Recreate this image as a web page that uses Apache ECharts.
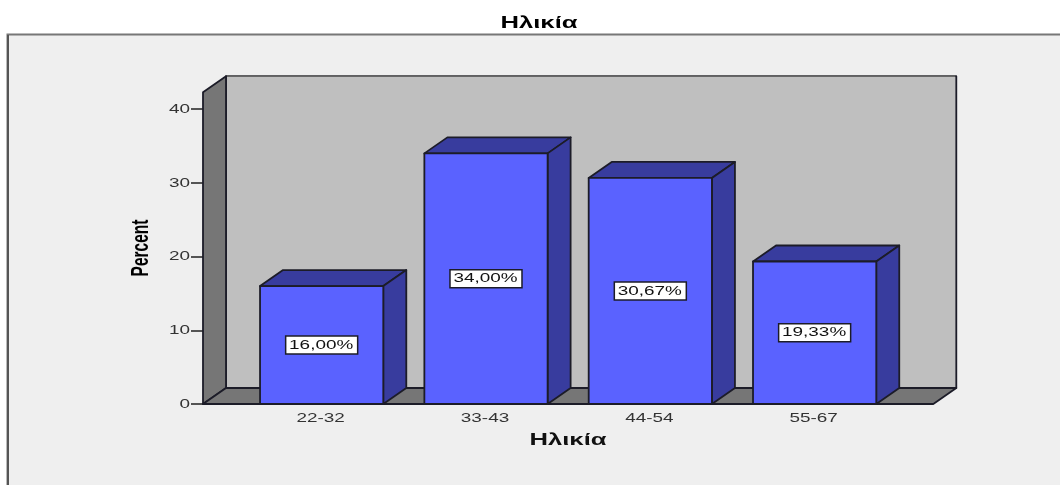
<!DOCTYPE html>
<html>
<head>
<meta charset="utf-8">
<title>Ηλικία</title>
<script src="https://cdn.jsdelivr.net/npm/echarts@6/dist/echarts.min.js"></script>
<style>
html,body{margin:0;padding:0;background:#fff}
#main{width:1060px;height:485px}
</style>
</head>
<body>
<div id="main"></div>
<script>
const categories = ['22-32', '33-43', '44-54', '55-67'];
const percents = [16.00, 34.00, 30.67, 19.33];
const percentLabels = ['16,00%', '34,00%', '30,67%', '19,33%'];
const yTicks = [0, 10, 20, 30, 40];
const yMax = 42.3;

// 3d look: how far the back wall sits from the front plane
const depthX = 23;
const depthY = -16;
// the front plane is wider than the category bands
const sideGap = 36.5;
const stretch = 1.4; // the picture is stretched sideways, so is its text

const edge = '#1c1c28';
const font = '13.5px "Liberation Sans"';

const chart = echarts.init(document.getElementById('main'), null, {renderer: 'canvas'});

const poly = (points, fill) => ({
    type: 'polygon',
    shape: {points},
    style: {fill, stroke: edge, lineWidth: 1.8, lineJoin: 'round'}
});

const wideText = (x, y, text, align, fill) => ({
    type: 'text',
    x, y,
    scaleX: stretch,
    style: {text, x: 0, y: 0, align, verticalAlign: 'middle', fill, font}
});

const renderWalls = (params) => {
    const cs = params.coordSys;
    const l = cs.x - sideGap, r = cs.x + cs.width + sideGap;
    const t = cs.y, b = cs.y + cs.height;
    return {
        type: 'group',
        children: [
            poly([[l + depthX, t + depthY], [r + depthX, t + depthY], [r + depthX, b + depthY], [l + depthX, b + depthY]], '#bfbfbf'),
            poly([[l, t], [l + depthX, t + depthY], [l + depthX, b + depthY], [l, b]], '#767676'),
            poly([[l, b], [l + depthX, b + depthY], [r + depthX, b + depthY], [r, b]], '#767676'),
            // top of the back wall is a lighter line in the picture
            {
                type: 'line',
                shape: {x1: l + depthX + 1, y1: t + depthY, x2: r + depthX - 1, y2: t + depthY},
                style: {stroke: '#666', lineWidth: 1.8}
            }
        ]
    };
};

const renderBar = (params, api) => {
    const i = api.value(0);
    const top = api.coord([i, api.value(1)]);
    const base = api.coord([i, 0]);
    const half = api.size([1, 0])[0] * 0.75 / 2;
    const l = top[0] - half, r = top[0] + half;
    const midY = (top[1] + base[1]) / 2;
    return {
        type: 'group',
        children: [
            poly([[l, top[1]], [l + depthX, top[1] + depthY], [r + depthX, top[1] + depthY], [r, top[1]]], '#383c9e'),
            poly([[r, top[1]], [r + depthX, top[1] + depthY], [r + depthX, base[1] + depthY], [r, base[1]]], '#383c9e'),
            poly([[l, top[1]], [r, top[1]], [r, base[1]], [l, base[1]]], '#5a62ff'),
            {
                type: 'rect',
                shape: {x: top[0] - 36, y: midY - 9, width: 72, height: 18},
                style: {fill: '#fff', stroke: edge, lineWidth: 1.5}
            },
            wideText(top[0] - 0.5, midY, percentLabels[i], 'center', '#111')
        ]
    };
};

const renderXLabel = (params, api) => {
    const p = api.coord([api.value(0), 0]);
    return wideText(p[0] - 1, p[1] + 14, categories[api.value(0)], 'center', '#333');
};

const renderYLabel = (params, api) => {
    const p = api.coord([0, api.value(1)]);
    return wideText(params.coordSys.x - sideGap - 13, p[1], String(api.value(1)), 'right', '#333');
};

const option = {
    animation: false,
    backgroundColor: '#fff',
    grid: {left: 239.5, top: 92.2, width: 657.3, height: 311.8},
    xAxis: {
        type: 'category',
        data: categories,
        axisLine: {show: false},
        axisTick: {alignWithLabel: true, length: 7, lineStyle: {color: '#444', width: 2}},
        axisLabel: {show: false}
    },
    yAxis: {
        type: 'value',
        min: 0,
        max: yMax,
        offset: sideGap,
        splitLine: {show: false},
        axisLine: {show: false},
        axisTick: {show: true, length: 12, customValues: yTicks, lineStyle: {color: '#222', width: 1.5}},
        axisLabel: {show: false}
    },
    graphic: [
        {
            type: 'rect',
            z: -10,
            shape: {x: 7.5, y: 34.5, width: 1100, height: 500},
            style: {fill: '#efefef', stroke: '#777', lineWidth: 2}
        },
        {
            type: 'line',
            z: -9,
            shape: {x1: 8, y1: 35, x2: 8, y2: 485},
            style: {stroke: '#555', lineWidth: 2}
        },
        {
            type: 'text', x: 539, y: 24, scaleX: 1.6,
            style: {text: 'Ηλικία', x: 0, y: 0, align: 'center', verticalAlign: 'middle', fill: '#000', font: 'bold 16px "Liberation Sans"'}
        },
        {
            type: 'text', x: 568, y: 441, scaleX: 1.6,
            style: {text: 'Ηλικία', x: 0, y: 0, align: 'center', verticalAlign: 'middle', fill: '#111', font: 'bold 16px "Liberation Sans"'}
        },
        {
            type: 'text', x: 142, y: 248, rotation: Math.PI / 2, scaleY: 1.5,
            style: {text: 'Percent', x: 0, y: 0, align: 'center', verticalAlign: 'middle', fill: '#000', font: 'bold 15.5px "Liberation Sans"'}
        }
    ],
    series: [
        {type: 'custom', z: 1, renderItem: renderWalls, data: [[0, 0]], encode: {x: 0, y: 1}, silent: true},
        {type: 'custom', z: 3, renderItem: renderBar, data: percents.map((v, i) => [i, v]), encode: {x: 0, y: 1}},
        {type: 'custom', z: 3, renderItem: renderXLabel, data: categories.map((c, i) => [i, 0]), encode: {x: 0, y: 1}},
        {type: 'custom', z: 3, renderItem: renderYLabel, data: yTicks.map(v => [0, v]), encode: {x: 0, y: 1}}
    ]
};

chart.setOption(option);
</script>
</body>
</html>
